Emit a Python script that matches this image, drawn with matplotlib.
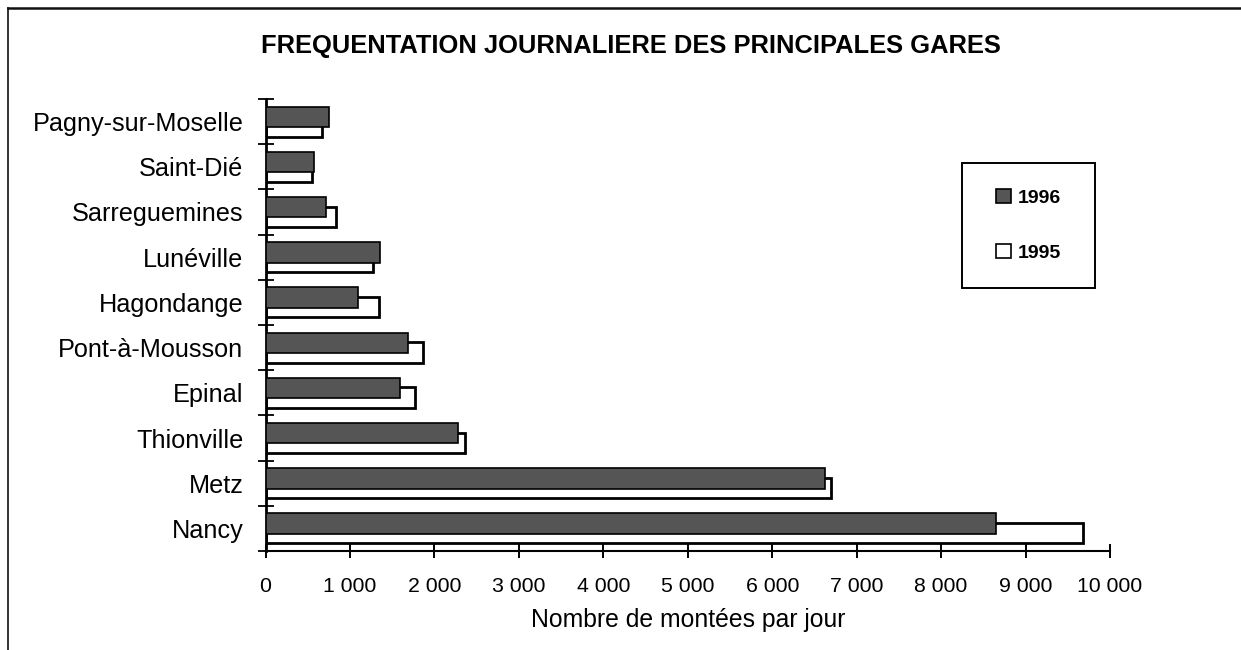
import numpy as np
import matplotlib
matplotlib.use("Agg")
import matplotlib.pyplot as plt
from matplotlib.patches import Rectangle
from matplotlib.lines import Line2D

# Stations, listed from the bottom of the chart to the top
stations = ["Nancy", "Metz", "Thionville", "Epinal", "Pont-à-Mousson",
            "Hagondange", "Lunéville", "Sarreguemines", "Saint-Dié",
            "Pagny-sur-Moselle"]
boardings_1996 = [8650, 6620, 2280, 1590, 1690, 1090, 1350, 720, 580, 750]
boardings_1995 = [9680, 6700, 2360, 1770, 1860, 1345, 1270, 840, 545, 670]
series_labels = ["1996", "1995"]
x_ticks = [0, 1000, 2000, 3000, 4000, 5000, 6000, 7000, 8000, 9000, 10000]
x_tick_labels = ["0", "1 000", "2 000", "3 000", "4 000", "5 000",
                 "6 000", "7 000", "8 000", "9 000", "10 000"]
title_text = "FREQUENTATION JOURNALIERE DES PRINCIPALES GARES"
x_label_text = "Nombre de montées par jour"

plt.rcParams["font.family"] = ["Liberation Sans", "DejaVu Sans"]

W, H = 1241, 650
fig = plt.figure(figsize=(W / 100, H / 100), dpi=100)


def fx(px):
    return px / W


def fy(py):
    return 1 - py / H


# Outer frame (left and top edges)
fig.add_artist(Line2D([fx(8), fx(8)], [fy(650), fy(8)], color="#222222",
                      lw=1.3, transform=fig.transFigure))
fig.add_artist(Line2D([fx(8), fx(1241)], [fy(8), fy(8)], color="#111111",
                      lw=1.8, transform=fig.transFigure))

ax_left, ax_right, ax_top, ax_bottom = 265.5, 1110, 99, 551
ax = fig.add_axes([fx(ax_left), fy(ax_bottom), fx(ax_right - ax_left),
                   (ax_bottom - ax_top) / H])

y = np.arange(len(stations))
bar_h = 0.45
off = 0.105
b95 = ax.barh(y - off, boardings_1995, height=bar_h, color="white",
              edgecolor="black", linewidth=2.0, zorder=2)
b96 = ax.barh(y + off, boardings_1996, height=bar_h, color="#555555",
              edgecolor="black", linewidth=1.2, zorder=3)

ax.set_xlim(0, 10000)
ax.set_ylim(-0.5, len(stations) - 0.5)

for side in ("top", "right"):
    ax.spines[side].set_visible(False)
ax.spines["left"].set_linewidth(2.0)
ax.spines["bottom"].set_linewidth(1.5)

ax.set_xticks(x_ticks)
ax.set_xticklabels(x_tick_labels, fontsize=15.3)
ax.tick_params(axis="x", direction="inout", length=10, width=1.4, pad=13.5)

# Category separators as major ticks, station names on minor ticks
ax.set_yticks(np.arange(-0.5, len(stations), 1.0))
ax.set_yticklabels([])
ax.tick_params(axis="y", which="major", direction="inout", length=12,
               width=1.3)
ax.set_yticks(y, minor=True)
ax.set_yticklabels(stations, minor=True, fontsize=18.2)
ax.tick_params(axis="y", which="minor", length=0, pad=16)

ax.set_xlabel(x_label_text, fontsize=17.8, labelpad=9)

# Title
fig.text(fx(631), fy(46), title_text, weight="bold",
         fontsize=18.4, ha="center", va="center")

# Legend box
lx0, lx1, ly0, ly1 = 962, 1095, 163, 288
fig.add_artist(Rectangle((fx(lx0), fy(ly1)), fx(lx1 - lx0),
                         (ly1 - ly0) / H, fill=False, edgecolor="black",
                         lw=1.4, transform=fig.transFigure))
leg = ax.legend([b96, b95], series_labels, loc="center",
                bbox_to_anchor=(fx((lx0 + lx1) / 2), fy((ly0 + ly1) / 2)),
                bbox_transform=fig.transFigure, frameon=False,
                prop={"weight": "bold", "size": 14},
                handlelength=0.75, handleheight=0.75, handletextpad=0.35,
                labelspacing=1.9)
for h in leg.legend_handles:
    h.set_linewidth(1.2)

fig.savefig("out.png", dpi=100)
